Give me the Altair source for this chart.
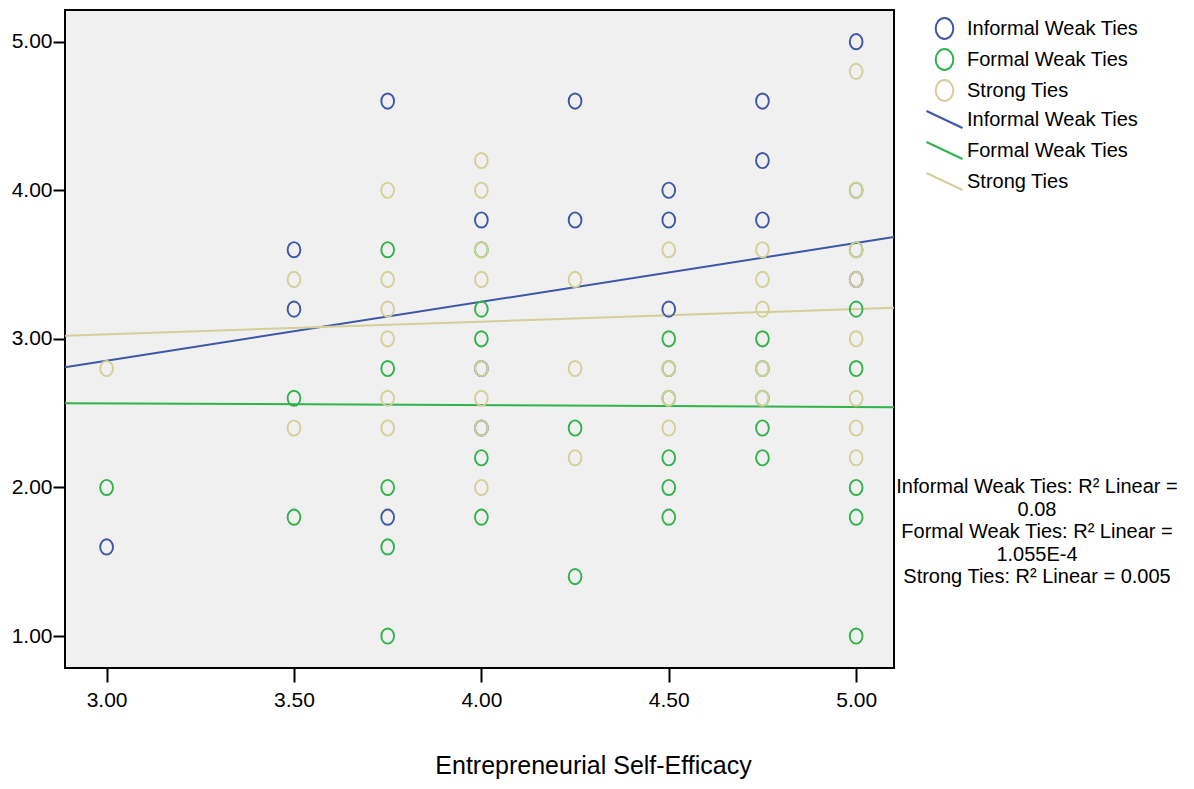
import altair as alt
import pandas as pd

series_names = ["Informal Weak Ties", "Formal Weak Ties", "Strong Ties"]
series_colors = ["#3d56a8", "#2fb34a", "#d4cf97"]

informal_x = [3.00, 3.50, 3.50, 3.75, 3.75, 4.00, 4.00, 4.00, 4.25, 4.25, 4.50, 4.50, 4.50,
              4.75, 4.75, 4.75, 5.00, 5.00]
informal_y = [1.6, 3.6, 3.2, 4.6, 1.8, 3.8, 2.8, 2.4, 4.6, 3.8, 4.0, 3.8, 3.2,
              4.6, 4.2, 3.8, 5.0, 3.4]

formal_x = [3.00, 3.50, 3.50, 3.75, 3.75, 3.75, 3.75, 3.75, 4.00, 4.00, 4.00, 4.00, 4.00,
            4.25, 4.25, 4.50, 4.50, 4.50, 4.50, 4.50, 4.50, 4.75, 4.75, 4.75, 4.75, 4.75,
            5.00, 5.00, 5.00, 5.00, 5.00, 5.00, 5.00]
formal_y = [2.0, 2.6, 1.8, 3.6, 2.8, 2.0, 1.6, 1.0, 3.6, 3.2, 3.0, 2.2, 1.8,
            2.4, 1.4, 3.0, 2.8, 2.6, 2.2, 2.0, 1.8, 3.0, 2.8, 2.6, 2.4, 2.2,
            4.0, 3.6, 3.2, 2.8, 2.0, 1.8, 1.0]

strong_x = [3.00, 3.50, 3.50, 3.75, 3.75, 3.75, 3.75, 3.75, 3.75,
            4.00, 4.00, 4.00, 4.00, 4.00, 4.00, 4.00, 4.00,
            4.25, 4.25, 4.25, 4.50, 4.50, 4.50, 4.50,
            4.75, 4.75, 4.75, 4.75, 4.75,
            5.00, 5.00, 5.00, 5.00, 5.00, 5.00, 5.00, 5.00]
strong_y = [2.8, 3.4, 2.4, 4.0, 3.4, 3.2, 3.0, 2.6, 2.4,
            4.2, 4.0, 3.6, 3.4, 2.8, 2.6, 2.4, 2.0,
            3.4, 2.8, 2.2, 3.6, 2.8, 2.6, 2.4,
            3.6, 3.4, 3.2, 2.8, 2.6,
            4.8, 4.0, 3.6, 3.4, 3.0, 2.6, 2.4, 2.2]

# fitted linear lines (intercept, slope)
fit_intercept = [1.665, 2.6035, 2.776]
fit_slope = [0.396, -0.0125, 0.085]

x_domain = [2.889, 5.101]
y_domain = [0.785, 5.213]
x_ticks = [3.0, 3.5, 4.0, 4.5, 5.0]
y_ticks = [1.0, 2.0, 3.0, 4.0, 5.0]

r2_text = ("Informal Weak Ties: R\u00b2 Linear =\n0.08\n"
           "Formal Weak Ties: R\u00b2 Linear =\n1.055E-4\n"
           "Strong Ties: R\u00b2 Linear = 0.005")

rows = []
for name, xs, ys in zip(series_names, [informal_x, formal_x, strong_x],
                        [informal_y, formal_y, strong_y]):
    for xv, yv in zip(xs, ys):
        rows.append({"ese": xv, "val": yv, "series": name})
pts = pd.DataFrame(rows)
pts["order"] = pts["series"].map({n: i for i, n in enumerate(series_names)})

line_rows = []
for name, b0, b1 in zip(series_names, fit_intercept, fit_slope):
    for xv in x_domain:
        line_rows.append({"ese": xv, "val": b0 + b1 * xv, "series": name})
lines = pd.DataFrame(line_rows)

FONT = "Liberation Sans, Arial, sans-serif"

k = 0.5523
rx = 0.84
ellipse = (f"M0,-1C{rx*k:.3f},-1,{rx},-{k},{rx},0"
           f"C{rx},{k},{rx*k:.3f},1,0,1"
           f"C-{rx*k:.3f},1,-{rx},{k},-{rx},0"
           f"C-{rx},-{k},-{rx*k:.3f},-1,0,-1Z")
diag = "M-1.714,-0.81L1.714,0.81"

xscale = alt.Scale(domain=x_domain, nice=False, zero=False)
yscale = alt.Scale(domain=y_domain, nice=False, zero=False)

xaxis = alt.Axis(values=x_ticks, format=".2f", grid=False, domain=False,
                 tickColor="black", tickWidth=2, tickSize=14,
                 labelFont=FONT, labelFontSize=21, labelColor="black", labelPadding=7,
                 title="Entrepreneurial Self-Efficacy", titleFont=FONT, titleFontSize=25,
                 titleFontWeight="normal", titleColor="black", titleX=528, titleY=105,
                 titleBaseline="alphabetic", titleAlign="center", titleAnchor="start")
yaxis = alt.Axis(values=y_ticks, format=".2f", grid=False, domain=False,
                 tickColor="black", tickWidth=2, tickSize=12,
                 labelFont=FONT, labelFontSize=21, labelColor="black", labelPadding=1,
                 title=None)

legend_common = dict(orient="none", legendX=868, title=None, symbolSize=441,
                     symbolStrokeWidth=2, labelFont=FONT, labelFontSize=20,
                     labelColor="black", labelOffset=11, labelLimit=400, padding=0)

points = alt.Chart(pts).mark_point(filled=False, shape=ellipse, size=231, strokeWidth=1.9,
                                    opacity=1).encode(
    x=alt.X("ese:Q", scale=xscale, axis=xaxis),
    y=alt.Y("val:Q", scale=yscale, axis=yaxis),
    color=alt.Color("series:N",
                    scale=alt.Scale(domain=series_names, range=series_colors),
                    legend=alt.Legend(legendY=7, symbolType=ellipse, rowPadding=2,
                                      symbolFillColor="transparent", **legend_common)),
    order=alt.Order("order:Q"),
)

fit = alt.Chart(lines).mark_line(strokeWidth=2, clip=True).encode(
    x=alt.X("ese:Q", scale=xscale),
    y=alt.Y("val:Q", scale=yscale),
    detail="series:N",
    stroke=alt.Stroke("series:N",
                      scale=alt.Scale(domain=series_names, range=series_colors),
                      legend=alt.Legend(legendY=98, symbolType=diag, rowPadding=4,
                                        **legend_common)),
)

note = alt.Chart(pd.DataFrame({"t": [r2_text]})).mark_text(
    font=FONT, fontSize=20, color="black", align="center", baseline="middle",
    lineBreak="\n", lineHeight=22.5).encode(
    x=alt.value(972), y=alt.value(477), text="t:N")

chart = alt.layer(fit, points, note).resolve_scale(color="independent", stroke="independent").properties(
    width=829, height=658,
    padding={"left": 65, "top": 10, "right": 300, "bottom": 121},
    autosize=alt.AutoSizeParams(type="none"),
    background="white",
).configure_view(fill="#f0f0f0", stroke="black", strokeWidth=2)

chart.save("out.html", embed_options={"renderer": "svg", "actions": False})
